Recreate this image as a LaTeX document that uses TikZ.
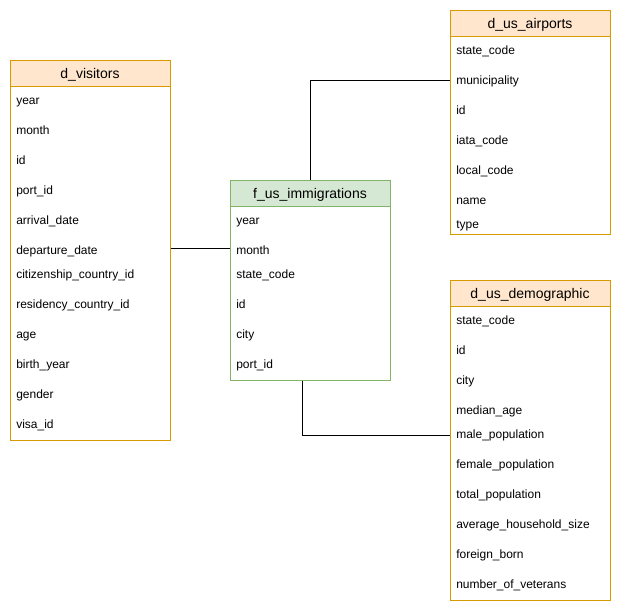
\documentclass[tikz,border=0pt]{standalone}
\usepackage{fontspec}
\setmainfont{Liberation Sans}
\usetikzlibrary{fit}
\definecolor{peach}{HTML}{FFE6CC}
\definecolor{ornge}{HTML}{D79B00}
\definecolor{lgreen}{HTML}{D5E8D4}
\definecolor{dgreen}{HTML}{82B366}
\tikzset{
  dimtable/.style={draw=ornge, line width=0.75pt, inner sep=0pt},
  dimhead/.style={draw=ornge, fill=peach, line width=0.75pt, inner sep=0pt},
  facttable/.style={draw=dgreen, line width=0.75pt, inner sep=0pt},
  facthead/.style={draw=dgreen, fill=lgreen, line width=0.75pt, inner sep=0pt},
  headtext/.style={font=\fontsize{10.5}{12}\selectfont, inner sep=0pt, yshift=-0.5pt},
  rowtext/.style={font=\fontsize{9}{11}\selectfont, anchor=west, inner sep=0pt, text height=6.5pt, text depth=2pt, yshift=-0.75pt},
  link/.style={draw=black, line width=0.75pt}
}
\begin{document}
\begin{tikzpicture}[x=0.75pt, y=-0.75pt]
\useasboundingbox (0,0) rectangle (621,614);
% d_visitors
\node[dimtable, fit={(10,60) (170,440)}] (vis) {};
\node[dimhead, fit={(10,60) (170,86)}] (vish) {};
\node[headtext] (vist) at (90,74) {d\_visitors};
\foreach \t/\y [count=\i] in {year/100, month/130, id/160, port\_id/190, arrival\_date/220, departure\_date/250, citizenship\_country\_id/274, residency\_country\_id/304, age/334, birth\_year/364, gender/394, visa\_id/424}
  \node[rowtext] (visr\i) at (16,\y) {\t};
% f_us_immigrations
\node[facttable, fit={(230,180) (390,380)}] (imm) {};
\node[facthead, fit={(230,180) (390,206)}] (immh) {};
\node[headtext] (immt) at (310,194) {f\_us\_immigrations};
\foreach \t/\y [count=\i] in {year/220, month/250, state\_code/274, id/304, city/334, port\_id/364}
  \node[rowtext] (immr\i) at (236,\y) {\t};
% d_us_airports
\node[dimtable, fit={(450,10) (610,234)}] (air) {};
\node[dimhead, fit={(450,10) (610,36)}] (airh) {};
\node[headtext] (airt) at (530,24) {d\_us\_airports};
\foreach \t/\y [count=\i] in {state\_code/50, municipality/80, id/110, iata\_code/140, local\_code/170, name/200, type/224}
  \node[rowtext] (airr\i) at (456,\y) {\t};
% d_us_demographic
\node[dimtable, fit={(450,280) (610,600)}] (dem) {};
\node[dimhead, fit={(450,280) (610,306)}] (demh) {};
\node[headtext] (demt) at (530,294) {d\_us\_demographic};
\foreach \t/\y [count=\i] in {state\_code/320, id/350, city/380, median\_age/410, male\_population/434, female\_population/464, total\_population/494, average\_household\_size/524, foreign\_born/554, number\_of\_veterans/584}
  \node[rowtext] (demr\i) at (456,\y) {\t};
% connectors
\coordinate (jv) at (0,248);
\draw[link] (vis.east |- jv) -- (imm.west |- jv);
\coordinate (ja) at (0,80);
\draw[link] (imm.north) |- (air.west |- ja);
\coordinate (jd) at (302,435);
\draw[link] (imm.south -| jd) |- (dem.west |- jd);
\end{tikzpicture}
\end{document}
